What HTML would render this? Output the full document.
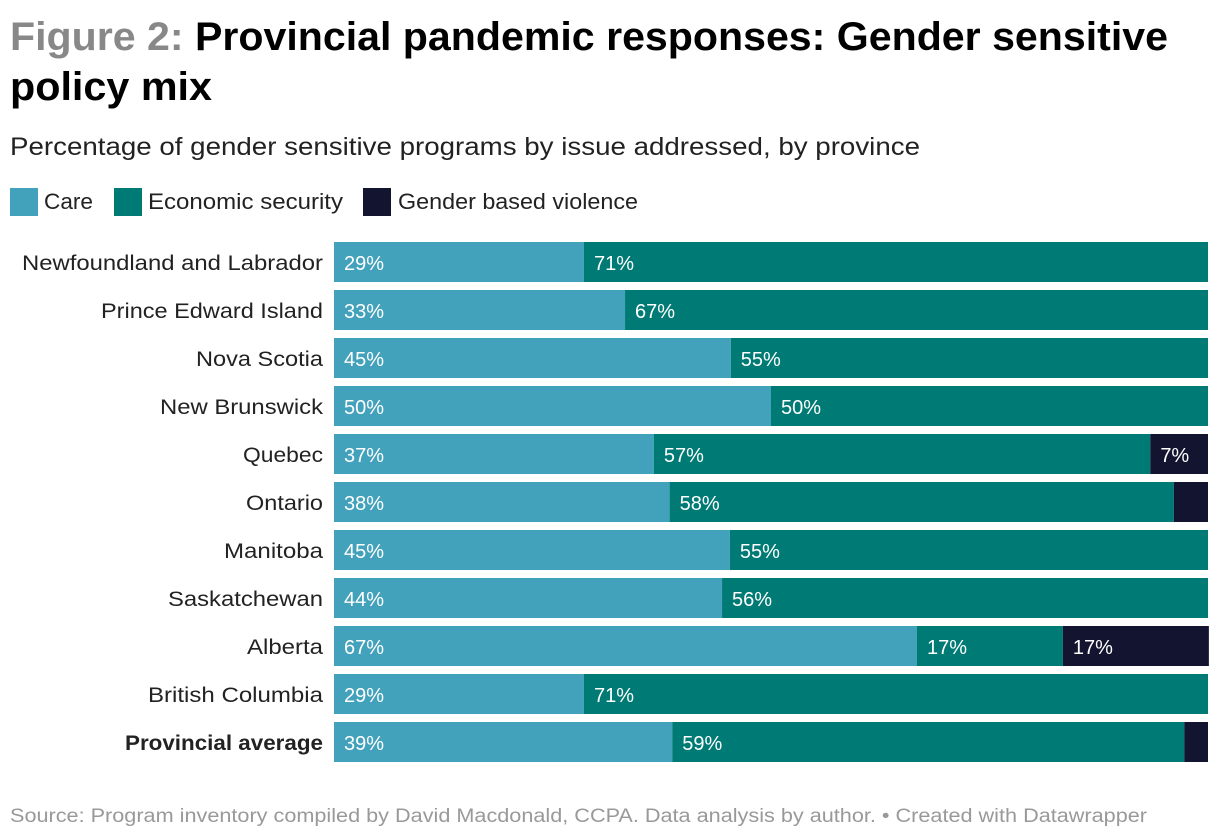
<!DOCTYPE html>
<html><head><meta charset="utf-8"><style>
html,body{margin:0;padding:0;background:#fff;}
svg{display:block;font-family:"Liberation Sans",sans-serif;}
</style></head><body>
<svg id="chart" width="1220" height="840" viewBox="0 0 1220 840">
<text x="10" y="50" font-size="40" font-weight="bold" fill="#000" textLength="1158" lengthAdjust="spacingAndGlyphs"><tspan fill="#888888">Figure 2:</tspan> Provincial pandemic responses: Gender sensitive</text>
<text x="10" y="100" font-size="40" font-weight="bold" fill="#000" textLength="202" lengthAdjust="spacingAndGlyphs">policy mix</text>
<text x="10" y="155" font-size="25" fill="#222" textLength="910" lengthAdjust="spacingAndGlyphs">Percentage of gender sensitive programs by issue addressed, by province</text>
<g>
<rect x="10" y="188" width="28" height="28" fill="#43a2bb"/>
<text x="44" y="209" font-size="22" fill="#222" textLength="49" lengthAdjust="spacingAndGlyphs">Care</text>
<rect x="114" y="188" width="28" height="28" fill="#007a74"/>
<text x="148" y="209" font-size="22" fill="#222" textLength="195" lengthAdjust="spacingAndGlyphs">Economic security</text>
<rect x="363" y="188" width="28" height="28" fill="#131530"/>
<text x="398" y="209" font-size="22" fill="#222" textLength="240" lengthAdjust="spacingAndGlyphs">Gender based violence</text>
</g>
<g id="bars"></g>
<text x="10" y="822" font-size="19" fill="#999" textLength="1137" lengthAdjust="spacingAndGlyphs">Source: Program inventory compiled by David Macdonald, CCPA. Data analysis by author. • Created with Datawrapper</text>
</svg>
<script>
const provinces = ["Newfoundland and Labrador","Prince Edward Island","Nova Scotia","New Brunswick","Quebec","Ontario","Manitoba","Saskatchewan","Alberta","British Columbia","Provincial average"];
const care = [28.6,33.3,45.4,50,36.6,38.4,45.3,44.4,66.7,28.6,38.7];
const economic = [71.4,66.7,54.6,50,56.8,57.7,54.7,55.6,16.7,71.4,58.6];
const gbv = [0,0,0,0,6.6,3.9,0,0,16.7,0,2.7];
const labelWidths = [301,222,127,163,80,77,99,155,76,175,198];
const X0 = 334, W = 874, Y0 = 242, STEP = 48, BH = 40;
const xScale = v => v / 100 * W;
const yScale = i => Y0 + i * STEP;
const ns = "http://www.w3.org/2000/svg";
const g = document.getElementById('bars');
const series = [[care,'#43a2bb','care'],[economic,'#007a74','economic'],[gbv,'#131530','gbv']];
provinces.forEach((p,i)=>{
  const y = yScale(i);
  const lab = document.createElementNS(ns,'text');
  
  
  lab.setAttribute('x', 323); lab.setAttribute('y', y+28);
  lab.setAttribute('text-anchor','end'); lab.setAttribute('font-size', 21);
  lab.setAttribute('fill','#222');
  lab.setAttribute('textLength', labelWidths[i]); lab.setAttribute('lengthAdjust','spacingAndGlyphs');
  if (i === provinces.length-1) lab.setAttribute('font-weight','bold');
  lab.textContent = p; g.appendChild(lab);
  let acc = 0;
  series.forEach(([arr,col,nm])=>{
    const v = arr[i]; if (v <= 0) return;
    const x = X0 + xScale(acc);
    const r = document.createElementNS(ns,'rect');
    
    
    r.setAttribute('x', x); r.setAttribute('y', y); r.setAttribute('width', xScale(v)); r.setAttribute('height', BH);
    r.setAttribute('fill', col); g.appendChild(r);
    if (v >= 5) {
      const t = document.createElementNS(ns,'text');
      
      
      t.setAttribute('x', x+10); t.setAttribute('y', y+28);
      t.setAttribute('font-size', 20); t.setAttribute('fill', '#fff');
      t.textContent = Math.round(v) + '%'; g.appendChild(t);
    }
    acc += v;
  });
});
</script>
</body></html>
